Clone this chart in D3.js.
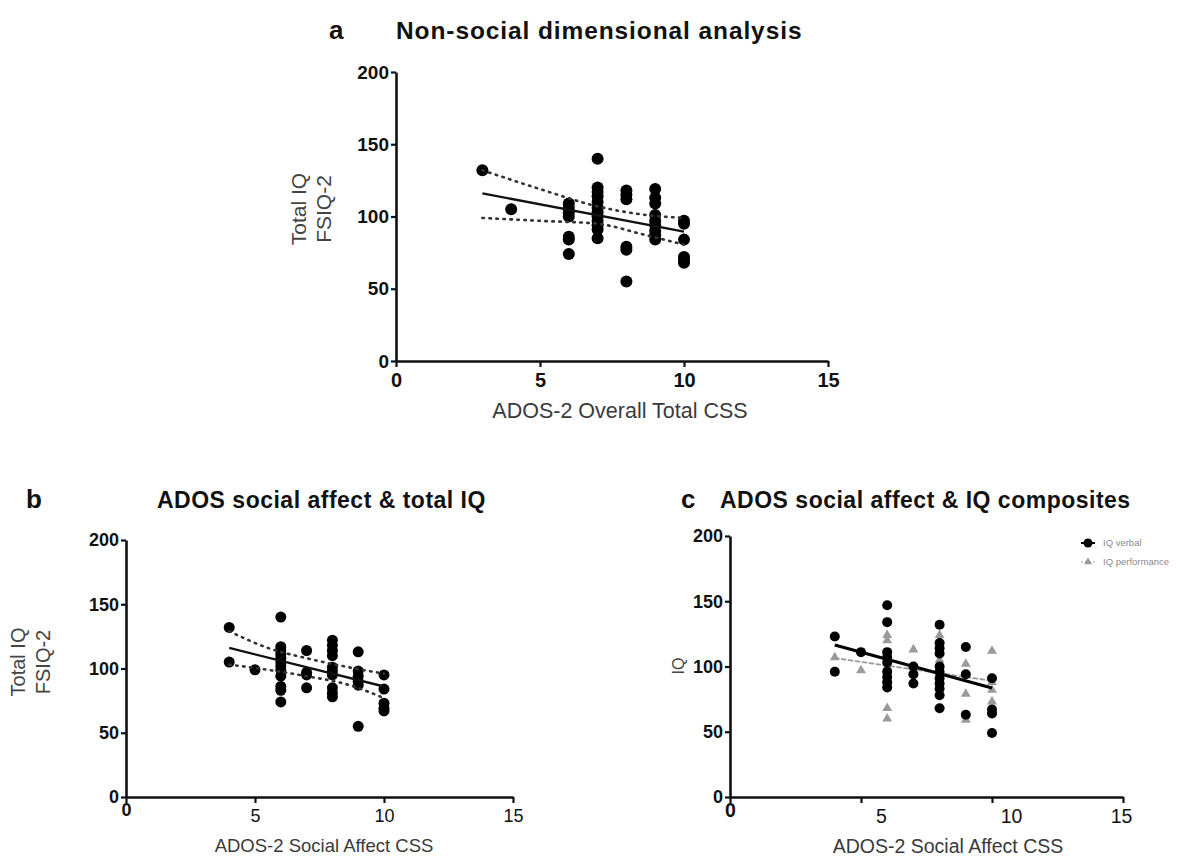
<!DOCTYPE html>
<html>
<head>
<meta charset="utf-8">
<script src="https://cdn.jsdelivr.net/npm/d3@7"></script>
<style>
  body { margin: 0; background: #fff; }
  svg { display: block; font-family: "Liberation Sans", Arial, sans-serif; }
</style>
</head>
<body>
<svg id="chart" width="1186" height="857"></svg>
<script>
'use strict'

// panel a: ADOS-2 overall total CSS vs FSIQ-2
const aCols = [3, 4, 6, 7, 8, 9, 10]
const aVals = [
  [132],
  [105],
  [109, 106, 103, 100, 86, 84, 74],
  [140, 120, 117, 114, 110, 106, 103, 100, 97, 94, 91, 85],
  [118, 115, 112, 79, 77, 55],
  [119, 113, 109, 101, 97, 94, 90, 87, 84],
  [97, 95, 84, 72, 70, 68]
]
const aFitX = [3, 10]
const aFitY = [116, 89.5]
const aCiX = [3, 5, 7, 8.5, 10]
const aCiUpper = [132, 119, 107, 101.5, 99]
const aCiLower = [99, 97, 95, 88, 80.5]

// panel b: social affect CSS vs FSIQ-2
const bCols = [4, 5, 6, 7, 8, 9, 10]
const bVals = [
  [132, 105],
  [99],
  [140, 117, 114, 111, 108, 105, 102, 99, 94, 86, 83, 74],
  [114, 97, 95, 85],
  [122, 118, 114, 110, 101, 98, 95, 85, 81, 78],
  [113, 98, 94, 90, 87, 55],
  [95, 84, 73, 69, 67]
]
const bFitX = [4, 10]
const bFitY = [116, 86]
const bCiX = [4, 5.5, 7, 8.5, 10]
const bCiUpper = [129, 116, 108, 101.5, 96]
const bCiLower = [103, 99, 94, 88, 77]

// panel c: social affect CSS vs verbal / performance IQ
const cCols = [4, 5, 6, 7, 8, 9, 10]
const cVerbal = [
  [123, 96],
  [111],
  [147, 134, 111, 107, 103, 96, 92, 88, 84],
  [100, 94, 87],
  [132, 118, 114, 110, 100, 96, 91, 87, 83, 78, 68],
  [115, 94, 63],
  [91, 67, 64, 49]
]
const cPerf = [
  [107],
  [97],
  [124, 120, 100, 90, 68, 60],
  [113, 97],
  [124, 120, 105, 95],
  [102, 79, 59],
  [112, 88, 82, 73]
]
const cVerbalFitX = [4, 10]
const cVerbalFitY = [116.5, 83.5]
const cPerfFitX = [4, 10]
const cPerfFitY = [106.5, 89]

const xTicks = [0, 5, 10, 15]
const yTicks = [0, 50, 100, 150, 200]

const svg = d3.select('#chart')

function flatten(cols, vals) {
  const out = []
  cols.forEach((c, i) => vals[i].forEach(v => out.push({x: c, y: v})))
  return out
}

function drawAxes(p) {
  const x = d3.scaleLinear().domain([0, 15]).range(p.xr)
  const y = d3.scaleLinear().domain([0, 200]).range(p.yr)

  const gx = svg.append('g')
    .attr('transform', `translate(0, ${p.yr[0]})`)
    .call(d3.axisBottom(x).tickValues(xTicks).tickSize(6).tickSizeOuter(0).tickPadding(6))
  gx.select('.domain').attr('stroke', '#111').attr('stroke-width', 2.6)
  gx.selectAll('.tick line').attr('stroke', '#111').attr('stroke-width', 2.2)
  gx.selectAll('.tick text')
    .attr('fill', '#111')
    .style('font-size', p.xTickSize + 'px')
    .style('font-weight', d => (p.xTickBold || d === 0) ? 'bold' : 'normal')
    .attr('dx', (d, i) => p.xTickShift ? p.xTickShift[i] : 0)
    .attr('dy', d => (!p.xTickBold && d === 0) ? '0.4em' : '0.71em')

  const gy = svg.append('g')
    .attr('transform', `translate(${p.xr[0]}, 0)`)
    .call(d3.axisLeft(y).tickValues(yTicks).tickSize(5).tickSizeOuter(0).tickPadding(2))
  gy.select('.domain').attr('stroke', '#111').attr('stroke-width', 2.6)
  gy.selectAll('.tick line').attr('stroke', '#111').attr('stroke-width', 2.2)
  gy.selectAll('.tick text')
    .attr('fill', '#111')
    .style('font-size', p.yTickSize + 'px')
    .style('font-weight', 'bold')

  // axis titles
  svg.append('text')
    .attr('x', p.xLabelX).attr('y', p.yr[0] + p.xLabelGap)
    .attr('text-anchor', 'middle')
    .attr('fill', '#3a3a3a')
    .style('font-size', p.xLabelSize + 'px')
    .text(p.xLabel)

  p.yLabel.forEach((t, i) => {
    svg.append('text')
      .attr('transform', `translate(${p.yLabelX[i]}, ${p.yLabelY}) rotate(-90)`)
      .attr('text-anchor', 'middle')
      .attr('fill', '#444')
      .style('font-size', p.yLabelSize + 'px')
      .text(t)
  })

  return {x, y}
}

function drawTitle(letter, lx, title, tx, ty, size, spacing) {
  svg.append('text')
    .attr('x', lx).attr('y', ty)
    .attr('fill', '#111')
    .style('font-size', '26px').style('font-weight', 'bold')
    .text(letter)
  svg.append('text')
    .attr('x', tx).attr('y', ty)
    .attr('fill', '#111')
    .style('font-size', size + 'px').style('font-weight', 'bold')
    .style('letter-spacing', spacing + 'px')
    .text(title)
}

function drawFit(s, xs, ys, color, width, dash, curve) {
  const line = d3.line()
    .x(d => s.x(d[0]))
    .y(d => s.y(d[1]))
    .curve(curve || d3.curveLinear)
  svg.append('path')
    .datum(d3.zip(xs, ys))
    .attr('d', line)
    .attr('fill', 'none')
    .attr('stroke', color)
    .attr('stroke-width', width)
    .attr('stroke-linecap', dash ? 'round' : 'butt')
    .attr('stroke-dasharray', dash || null)
}

function drawDots(s, data, r, color) {
  svg.append('g').selectAll('circle')
    .data(data)
    .join('circle')
    .attr('cx', d => s.x(d.x))
    .attr('cy', d => s.y(d.y))
    .attr('r', r)
    .attr('fill', color)
}

function drawTriangles(s, data, size, color) {
  const sym = d3.symbol().type(d3.symbolTriangle).size(size)
  svg.append('g').selectAll('path')
    .data(data)
    .join('path')
    .attr('d', sym)
    .attr('transform', d => `translate(${s.x(d.x)}, ${s.y(d.y)})`)
    .attr('fill', color)
}

// ---- panel a ----
drawTitle('a', 329, 'Non-social dimensional analysis', 396, 39, 24.5, 0.9)
const sa = drawAxes({
  xr: [396, 828], yr: [361, 72],
  xTickSize: 20, xTickBold: true, yTickSize: 19,
  xLabel: 'ADOS-2 Overall Total CSS', xLabelX: 620, xLabelGap: 57, xLabelSize: 21.5,
  yLabel: ['Total IQ', 'FSIQ-2'], yLabelX: [306, 331], yLabelY: 209, yLabelSize: 21
})
drawDots(sa, flatten(aCols, aVals), 6, '#000')
drawFit(sa, aFitX, aFitY, '#111', 2.4)
drawFit(sa, aCiX, aCiUpper, '#333', 2.6, '1.5,5.5', d3.curveMonotoneX)
drawFit(sa, aCiX, aCiLower, '#333', 2.6, '1.5,5.5', d3.curveMonotoneX)

// ---- panel b ----
drawTitle('b', 26, 'ADOS social affect & total IQ', 157, 508, 23, 0.5)
const sb = drawAxes({
  xr: [126, 513], yr: [797, 540],
  xTickSize: 18, xTickBold: false, yTickSize: 18,
  xLabel: 'ADOS-2 Social Affect CSS', xLabelX: 324, xLabelGap: 55, xLabelSize: 18.5,
  yLabel: ['Total IQ', 'FSIQ-2'], yLabelX: [25, 50], yLabelY: 662, yLabelSize: 20
})
drawDots(sb, flatten(bCols, bVals), 5.5, '#000')
drawFit(sb, bFitX, bFitY, '#111', 2.4)
drawFit(sb, bCiX, bCiUpper, '#333', 2.6, '1.5,5.5', d3.curveMonotoneX)
drawFit(sb, bCiX, bCiLower, '#333', 2.6, '1.5,5.5', d3.curveMonotoneX)

// ---- panel c ----
drawTitle('c', 681, 'ADOS social affect & IQ composites', 720, 508, 23, 0.5)
const sc = drawAxes({
  xr: [730, 1123], yr: [797, 536],
  xTickSize: 19.5, xTickBold: false, yTickSize: 18,
  xTickShift: [0, 20, 19, -2],
  xLabel: 'ADOS-2 Social Affect CSS', xLabelX: 948, xLabelGap: 56, xLabelSize: 19.5,
  yLabel: ['IQ'], yLabelX: [684], yLabelY: 666, yLabelSize: 16
})
drawTriangles(sc, flatten(cCols, cPerf), 42, '#9a9a9a')
drawFit(sc, cPerfFitX, cPerfFitY, '#9a9a9a', 1.8, '4,3')
drawDots(sc, flatten(cCols, cVerbal), 5, '#000')
drawFit(sc, cVerbalFitX, cVerbalFitY, '#000', 3.2)

// legend
const legend = svg.append('g').attr('transform', 'translate(1088, 543)')
legend.append('line').attr('x1', -7).attr('x2', 7).attr('y1', 0).attr('y2', 0)
  .attr('stroke', '#000').attr('stroke-width', 2)
legend.append('circle').attr('r', 4.5).attr('fill', '#000')
legend.append('text').attr('x', 15).attr('y', 3)
  .attr('fill', '#8a8a8a').style('font-size', '9.5px').text('IQ verbal')
legend.append('line').attr('x1', -7).attr('x2', 7).attr('y1', 19).attr('y2', 19)
  .attr('stroke', '#9a9a9a').attr('stroke-width', 1.2).attr('stroke-dasharray', '2,2')
legend.append('path').attr('d', d3.symbol().type(d3.symbolTriangle).size(28))
  .attr('transform', 'translate(0, 19)').attr('fill', '#9a9a9a')
legend.append('text').attr('x', 15).attr('y', 22)
  .attr('fill', '#8a8a8a').style('font-size', '9.5px').text('IQ performance')
</script>
</body>
</html>
